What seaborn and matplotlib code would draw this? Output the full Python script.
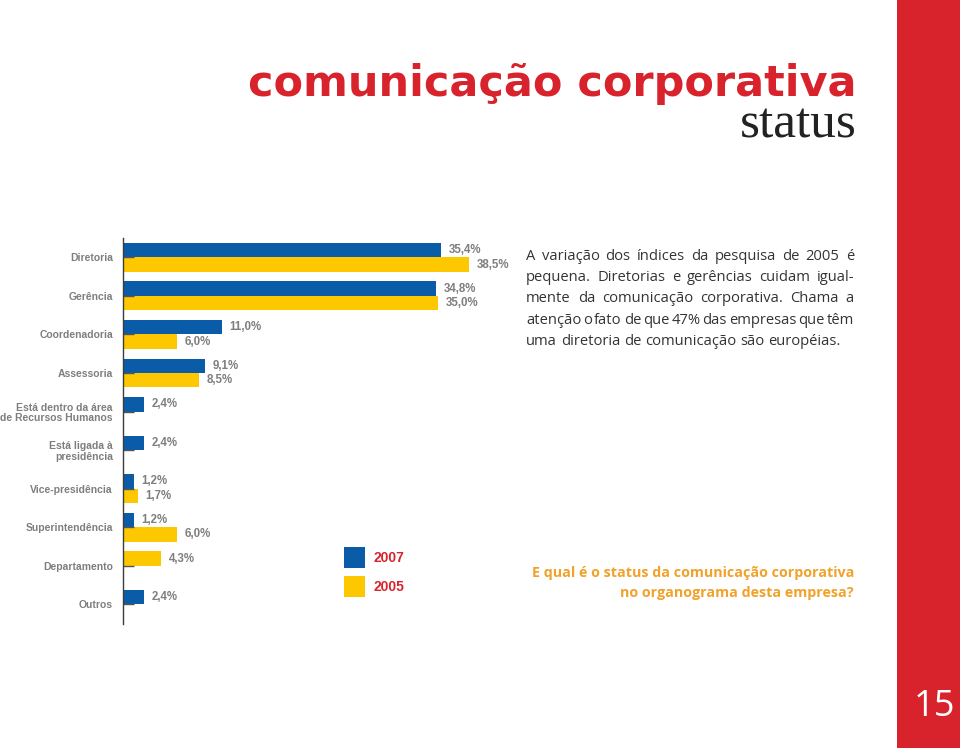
import matplotlib
matplotlib.use("Agg")
import matplotlib.pyplot as plt
from matplotlib.patches import Rectangle
import seaborn as sns
import pandas as pd

# ---------------- data ----------------
categories = [
    "Diretoria",
    "Gerência",
    "Coordenadoria",
    "Assessoria",
    "Está dentro da área\nde Recursos Humanos",
    "Está ligada à\npresidência",
    "Vice-presidência",
    "Superintendência",
    "Departamento",
    "Outros",
]
values_2007 = [35.4, 34.8, 11.0, 9.1, 2.4, 2.4, 1.2, 1.2, None, 2.4]
values_2005 = [38.5, 35.0, 6.0, 8.5, None, None, 1.7, 6.0, 4.3, None]
# row slot the 2005 bar occupies in the original (Departamento is drawn in the upper slot)
slot_2005 = ["bottom", "bottom", "bottom", "bottom", "bottom",
             "bottom", "bottom", "bottom", "top", "bottom"]
legend_years = ["2007", "2005"]

title = "comunicação corporativa"
subtitle = "status"
paragraph = [
    "A variação dos índices da pesquisa de 2005 é",
    "pequena. Diretorias e gerências cuidam igual-",
    "mente da comunicação corporativa. Chama a",
    "atenção o fato de que 47% das empresas que têm",
    "uma diretoria de comunicação são européias.",
]
question = ["E qual é o status da comunicação corporativa",
            "no organograma desta empresa?"]
page_number = "15"

# ---------------- style ----------------
BLUE = "#0b5ca8"
YELLOW = "#fdc800"
RED = "#d8232c"
GRAY = "#7e7e7e"
ORANGE = "#f0a22a"
W, H = 960, 748


def fx(px):
    return px / W


def fy(py):
    return 1 - py / H


fig = plt.figure(figsize=(W / 100, H / 100), dpi=100)
fig.patch.set_facecolor("white")

ax = fig.add_axes([fx(122.7), fy(623.6), 360 / W, 385.6 / H])

rows7 = [(c, v, "top") for c, v in zip(categories, values_2007) if v is not None]
rows5 = [(c, v, s) for c, v, s in zip(categories, values_2005, slot_2005) if v is not None]
d7 = pd.DataFrame(rows7, columns=["cat", "value", "slot"])
d5 = pd.DataFrame(rows5, columns=["cat", "value", "slot"])

common = dict(y="cat", x="value", hue="slot", hue_order=["top", "bottom"],
              order=categories, width=0.75, dodge=True, saturation=1,
              legend=False, errorbar=None, orient="h", ax=ax)
sns.barplot(data=d7, palette={"top": BLUE, "bottom": BLUE}, **common)
sns.barplot(data=d5, palette={"top": YELLOW, "bottom": YELLOW}, **common)

ax.set_xlim(0, 40)
ax.set_ylim(9.5, -0.5)
ax.set_xlabel("")
ax.set_ylabel("")
ax.xaxis.set_visible(False)
for s in ["top", "right", "bottom"]:
    ax.spines[s].set_visible(False)
ax.spines["left"].set_color("#3c3c3c")
ax.spines["left"].set_linewidth(1.0)
ax.set_facecolor("none")

ax.tick_params(axis="y", direction="in", length=8, width=1, color="#555555",
               pad=7, labelsize=7.5, labelcolor=GRAY)
for lab in ax.get_yticklabels():
    lab.set_fontweight("bold")
    lab.set_family("Liberation Sans")
    lab.set_multialignment("right")
    lab.set_linespacing(1.1)


def fmt(v):
    return f"{v:.1f}%".replace(".", ",")


for cont in ax.containers:
    ax.bar_label(cont, labels=[fmt(v) for v in cont.datavalues], padding=5.5,
                 fontsize=8.3, color=GRAY, fontweight="bold",
                 family="Liberation Sans")

# ---------------- decorations ----------------
fig.add_artist(Rectangle((fx(897), 0), 1 - fx(897), 1, transform=fig.transFigure,
                         facecolor=RED, edgecolor="none", zorder=0))
fig.text(fx(955), fy(716), page_number, ha="right", va="baseline", color="white",
         fontsize=26, family="Open Sans")

fig.text(fx(856), fy(96), title, ha="right", va="baseline", color=RED,
         fontsize=31, family="DejaVu Sans", fontweight="bold")
fig.text(fx(857), fy(138), subtitle, ha="right", va="baseline", color="#222222",
         fontsize=37, family="Liberation Serif")

# legend
for i, (yr, col) in enumerate(zip(legend_years, [BLUE, YELLOW])):
    top = 547 + i * 29
    fig.add_artist(Rectangle((fx(344), fy(top + 21)), 21 / W, 21 / H,
                             transform=fig.transFigure, facecolor=col,
                             edgecolor="none"))
    fig.text(fx(373), fy(top + 11), yr, ha="left", va="center", color=RED,
             fontsize=10, family="Liberation Sans", fontweight="bold")

# justified paragraph
renderer = fig.canvas.get_renderer()
pkw = dict(fontsize=10.6, family="Open Sans", color="#333333")


def width_of(s, **kw):
    t = fig.text(0, 0, s, **kw)
    w = t.get_window_extent(renderer).width
    t.remove()
    return w


space_w = width_of("x x", **pkw) - width_of("xx", **pkw)
x0, x1 = 526, 854
for i, line in enumerate(paragraph):
    base = 259.5 + i * 21.4
    words = line.split()
    widths = [width_of(wd, **pkw) for wd in words]
    if i < len(paragraph) - 1 and len(words) > 1:
        gap = max((x1 - x0 - sum(widths)) / (len(words) - 1), 0.5 * space_w)
    else:
        gap = space_w
    x = x0
    for wd, w in zip(words, widths):
        fig.text(fx(x), fy(base), wd, ha="left", va="baseline", **pkw)
        x += w + gap

for i, line in enumerate(question):
    fig.text(fx(854), fy(577 + i * 19.5), line, ha="right", va="baseline",
             color=ORANGE, fontsize=10.3, family="Open Sans", fontweight="bold")

fig.savefig("out.png", dpi=100, facecolor="white")
